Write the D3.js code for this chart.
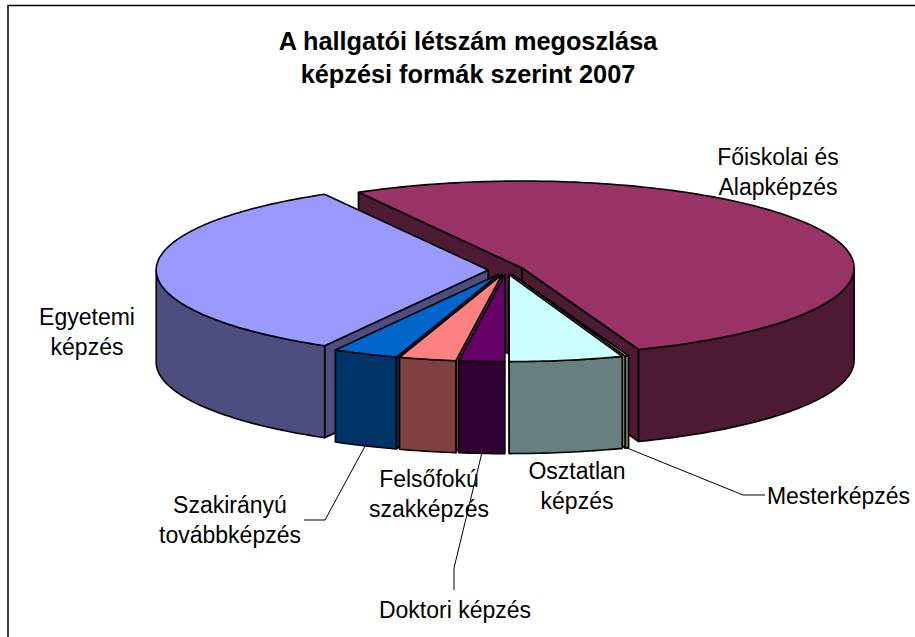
<!DOCTYPE html>
<html>
<head>
<meta charset="utf-8">
<script src="https://cdn.jsdelivr.net/npm/d3@7"></script>
<style>
	html, body { margin: 0; background: #fff; }
	svg { display: block; }
	text { font-family: "Liberation Sans", Arial, sans-serif; fill: #000; }
</style>
</head>
<body>
<div id="chart"></div>
<script>
(function() {

	// clockwise order, as in the workbook
	const categories = ["Egyetemi képzés", "Főiskolai és Alapképzés", "Mesterképzés", "Osztatlan képzés", "Doktori képzés", "Felsőfokú szakképzés", "Szakirányú továbbképzés"];
	const shares = [33.6, 52.5, 0.17, 5.53, 2.22, 2.78, 3.2];
	const colors = ["#9999ff", "#993366", "#ffffcc", "#ccffff", "#660066", "#ff8080", "#0066cc"];
	const titleLines = ["A hallgatói létszám megoszlása", "képzési formák szerint 2007"];

	const labelLines = [
		["Egyetemi", "képzés"],
		["Főiskolai és", "Alapképzés"],
		["Mesterképzés"],
		["Osztatlan", "képzés"],
		["Doktori képzés"],
		["Felsőfokú", "szakképzés"],
		["Szakirányú", "továbbképzés"]
	];

	const width = 915,
		height = 637;

	const cx = 506,
		cy = 270,
		radius = 332,
		tilt = 0.262,
		depth = 92,
		explode = 17.8;

	const deg = Math.PI / 180;

	const svg = d3.select("#chart").append("svg")
		.attr("width", width)
		.attr("height", height);

	// frame runs off the picture on the right and at the bottom
	svg.append("rect")
		.attr("x", 8)
		.attr("y", 5.5)
		.attr("width", 930)
		.attr("height", 660)
		.attr("fill", "#fff")
		.attr("stroke", "#000")
		.attr("stroke-width", 1.5);

	svg.selectAll("text.title")
		.data(titleLines)
		.enter().append("text")
		.attr("class", "title")
		.attr("x", 468)
		.attr("y", (d, i) => 50 + i * 33)
		.attr("text-anchor", "middle")
		.attr("font-weight", "bold")
		.attr("font-size", 25.3)
		.text(d => d);

	// d3.pie angles are clockwise from 12 o'clock, the slices start low on the left
	const pie = d3.pie()
		.sort(null)
		.startAngle(209.5 * deg)
		.endAngle(569.5 * deg);

	const slices = pie(shares).map((d, i) => {
		const mid = (d.startAngle + d.endAngle) / 2;
		return {
			i: i,
			name: categories[i],
			start: d.startAngle,
			end: d.endAngle,
			mid: mid,
			x: cx + explode * Math.sin(mid),
			y: cy - explode * Math.cos(mid) * tilt
		};
	});

	function rim(s, a, dy) {
		return [s.x + radius * Math.sin(a), s.y - radius * Math.cos(a) * tilt + (dy || 0)];
	}

	function arcPoints(s, from, to, dy) {
		const n = Math.max(2, Math.ceil((to - from) / deg));
		return d3.range(n + 1).map(k => rim(s, from + (to - from) * k / n, dy));
	}

	const line = d3.line();

	function wallPath(s) {
		// only the part of the rim that faces the viewer: 90 to 270 degrees
		const ranges = [[90, 270], [450, 630]];
		let out = "";
		ranges.forEach(r => {
			const from = Math.max(s.start, r[0] * deg),
				to = Math.min(s.end, r[1] * deg);
			if (to <= from) return;
			out += line(arcPoints(s, from, to).concat(arcPoints(s, from, to, depth).reverse())) + "Z";
		});
		return out;
	}

	function cutPath(s, a) {
		const p = rim(s, a);
		return line([[s.x, s.y], p, [p[0], p[1] + depth], [s.x, s.y + depth]]) + "Z";
	}

	function topPath(s) {
		return line([[s.x, s.y]].concat(arcPoints(s, s.start, s.end))) + "Z";
	}

	// painter's order, back to front
	const drawOrder = [1, 0, 6, 5, 2, 3, 4];

	const g = svg.selectAll("g.slice")
		.data(drawOrder.map(i => slices[i]))
		.enter().append("g")
		.attr("class", "slice")
		.attr("stroke", "#000")
		.attr("stroke-width", 1.6)
		.attr("stroke-linejoin", "round");

	const wallColor = i => {
		const c = d3.rgb(colors[i]);
		return d3.rgb(c.r / 2, c.g / 2, c.b / 2).formatHex();
	};

	// a cut face only shows when it turns towards the viewer
	g.filter(d => Math.sin(d.start) < 0).append("path")
		.attr("d", d => cutPath(d, d.start))
		.attr("fill", d => wallColor(d.i));
	g.filter(d => Math.sin(d.end) > 0).append("path")
		.attr("d", d => cutPath(d, d.end))
		.attr("fill", d => wallColor(d.i));
	g.append("path").attr("d", wallPath).attr("fill", d => wallColor(d.i));
	g.append("path").attr("d", topPath).attr("fill", d => colors[d.i]);

	// leader lines start under the slice middle, then run to the label
	const leaders = [
		{i: 2, to: [[743, 495], [765, 495]]},
		{i: 4, to: [[454, 568], [454, 590]]},
		{i: 6, to: [[325, 520], [304, 520]]}
	];

	svg.selectAll("path.leader")
		.data(leaders)
		.enter().append("path")
		.attr("class", "leader")
		.attr("fill", "none")
		.attr("stroke", "#000")
		.attr("stroke-width", 1)
		.attr("d", d => line([rim(slices[d.i], slices[d.i].mid, depth)].concat(d.to)));

	const labelPos = [
		{x: 87, y: 325},
		{x: 778, y: 165},
		{x: 838.5, y: 504},
		{x: 577, y: 479},
		{x: 455, y: 618},
		{x: 429, y: 487},
		{x: 230, y: 513}
	];

	const labels = svg.selectAll("g.label")
		.data(labelLines)
		.enter().append("g")
		.attr("class", "label");

	labels.selectAll("text")
		.data((d, i) => d.map((t, k) => ({t: t, k: k, pos: labelPos[i]})))
		.enter().append("text")
		.attr("x", d => d.pos.x)
		.attr("y", d => d.pos.y + d.k * 30)
		.attr("text-anchor", "middle")
		.attr("font-size", 23)
		.text(d => d.t);

})();
</script>
</body>
</html>
